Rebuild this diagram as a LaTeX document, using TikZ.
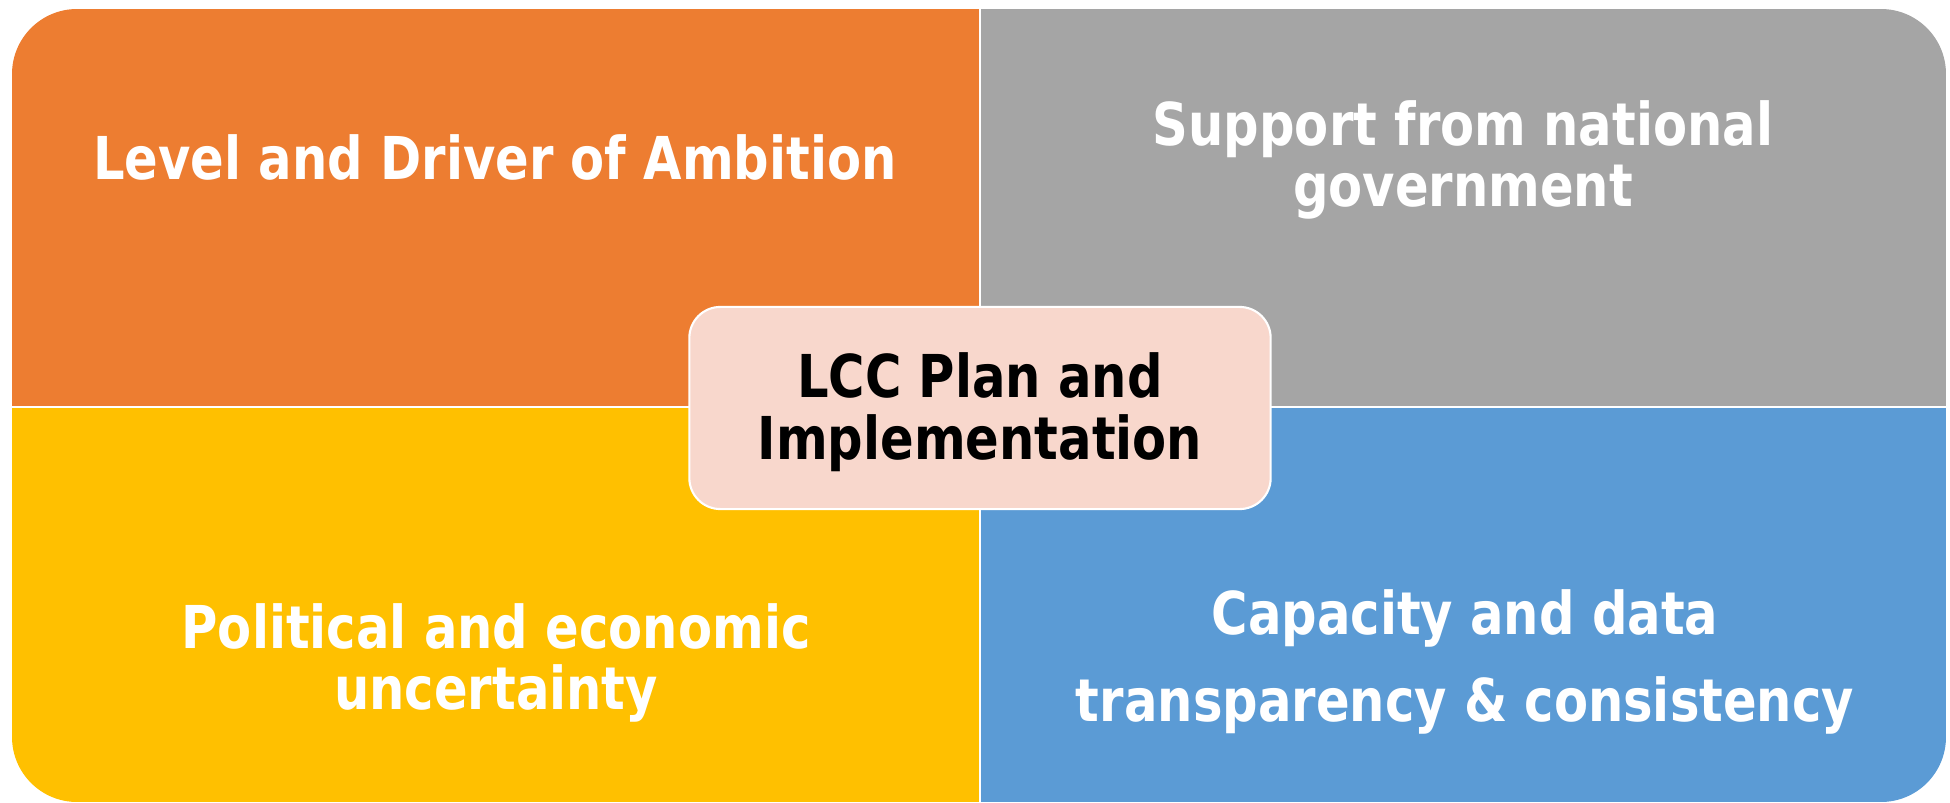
\documentclass[tikz,border=0pt]{standalone}
\usepackage{fontspec}
\usepackage{tikz}
\usetikzlibrary{positioning}
\newfontfamily\tilefont[FakeStretch=0.84]{DejaVu Sans}
\definecolor{cOrange}{RGB}{237,125,49}
\definecolor{cGray}{RGB}{165,165,165}
\definecolor{cYellow}{RGB}{255,192,0}
\definecolor{cBlue}{RGB}{91,155,213}
\definecolor{cHub}{RGB}{248,215,204}
\tikzset{
	tiletext/.style={align=center, text=white, font=\tilefont\bfseries\fontsize{16.8}{17.4}\selectfont},
	hub/.style     ={rectangle, rounded corners=0.31cm, minimum width=5.81cm, minimum height=2.02cm, draw=white, line width=0.6pt, fill=cHub},
	hubtext/.style ={align=center, font=\tilefont\bfseries\fontsize{16.8}{17.6}\selectfont},
	divide/.style  ={white, line width=0.6pt},
}
\begin{document}
\begin{tikzpicture}[x=0.01cm, y=-0.01cm]
	\useasboundingbox (0,0) rectangle (1950,803);
	\begin{scope}
		\clip[rounded corners=0.65cm] (12,9) rectangle (1946,802);
		\fill[cOrange] (12,9) rectangle (980,407);
		\fill[cGray] (980,9) rectangle (1946,407);
		\fill[cYellow] (12,407) rectangle (980,802);
		\fill[cBlue] (980,407) rectangle (1946,802);
		\draw[divide] (980,0) -- (980,803);
		\draw[divide] (0,407) -- (1950,407);
	\end{scope}
	\node[tiletext] (ambition) at (495,157) {Level and Driver of Ambition};
	\node[tiletext] (support) at (1463,160) {Support from national\\government};
	\node[tiletext] (uncertainty) at (496,663) {Political and economic\\uncertainty};
	\node[tiletext, font=\tilefont\bfseries\fontsize{16.8}{24.8}\selectfont] (capacity) at (1465,662) {Capacity and data\\transparency \& consistency};
	\node[hub] (lcc) at (980,408) {};
	\node[hubtext] (lcctext) at (980,412) {LCC Plan and\\Implementation};
\end{tikzpicture}
\end{document}
